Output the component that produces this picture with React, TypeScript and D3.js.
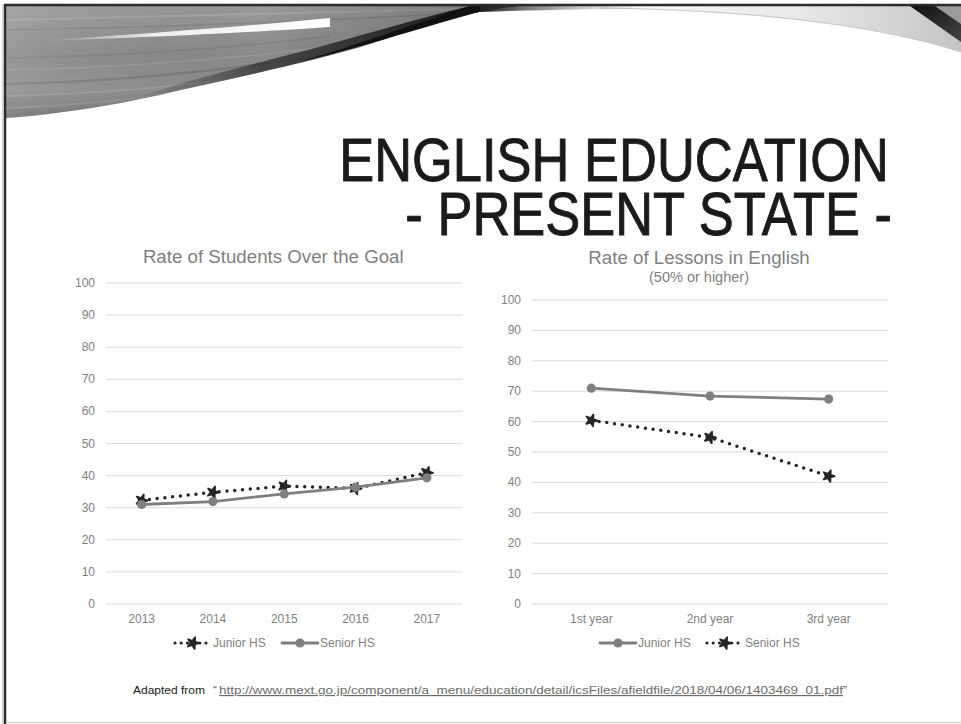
import React from "react";
import * as d3 from "d3";

const years = ["2013", "2014", "2015", "2016", "2017"];
const juniorGoal = [32.3, 34.8, 36.7, 36.0, 40.9];
const seniorGoal = [31.0, 31.9, 34.3, 36.4, 39.3];

const grades = ["1st year", "2nd year", "3rd year"];
const juniorLessons = [71.0, 68.4, 67.4];
const seniorLessons = [60.4, 54.8, 42.1];

const yTicks = [0, 10, 20, 30, 40, 50, 60, 70, 80, 90, 100];

const FONT = "'Liberation Sans', Arial, Helvetica, sans-serif";
const AXIS_COLOR = "#7f7f7f";
const GRID = "#d9d9d9";
const SOLID = "#7f7f7f";
const DOTTED = "#262626";

type Series = { name: string; values: number[]; dotted: boolean };

function Marker({ x, y, dotted }: { x: number; y: number; dotted: boolean }) {
  if (dotted) {
    const p = d3.symbol().type(d3.symbolStar).size(42)() as string;
    return (
      <path
        d={p}
        transform={`translate(${x},${y}) rotate(20)`}
        fill={DOTTED}
        stroke={DOTTED}
        strokeWidth={1.8}
        strokeLinejoin="round"
      />
    );
  }
  return <circle cx={x} cy={y} r={4.6} fill={SOLID} />;
}

function SeriesLine({ s, x, y }: { s: Series; x: (i: number) => number; y: d3.ScaleLinear<number, number> }) {
  const line = d3
    .line<number>()
    .x((_, i) => x(i))
    .y((d) => y(d));
  return (
    <g>
      <path
        d={line(s.values) as string}
        fill="none"
        stroke={s.dotted ? DOTTED : SOLID}
        strokeWidth={s.dotted ? 3.5 : 2.8}
        strokeLinecap="round"
        strokeDasharray={s.dotted ? "0 7.8" : undefined}
      />
      {s.values.map((v, i) => (
        <Marker key={i} x={x(i)} y={y(v)} dotted={s.dotted} />
      ))}
    </g>
  );
}

function Chart(props: {
  x0: number;
  x1: number;
  yTop: number;
  yBottom: number;
  categories: string[];
  series: Series[];
  title: string;
  titleY: number;
  subtitle?: string;
  legendX: number;
}) {
  const { x0, x1, yTop, yBottom, categories, series, title, titleY, subtitle, legendX } = props;
  const xb = d3.scaleBand<string>().domain(categories).range([x0, x1]);
  const xc = (i: number) => (xb(categories[i]) as number) + xb.bandwidth() / 2;
  const y = d3.scaleLinear().domain([0, 100]).range([yBottom, yTop]);
  const cx = (x0 + x1) / 2;
  const legendY = 643;
  return (
    <g fontFamily={FONT}>
      <text x={cx - 11} y={titleY} textAnchor="middle" fontSize={18.7} fill={AXIS_COLOR}>
        {title}
      </text>
      {subtitle && (
        <text x={cx - 11} y={titleY + 18} textAnchor="middle" fontSize={14.5} fill={AXIS_COLOR}>
          {subtitle}
        </text>
      )}
      {yTicks.map((t) => (
        <g key={t}>
          <line x1={x0} x2={x1} y1={y(t)} y2={y(t)} stroke={GRID} strokeWidth={1} />
          <text x={x0 - 11} y={y(t) + 4} textAnchor="end" fontSize={12} fill={AXIS_COLOR}>
            {t}
          </text>
        </g>
      ))}
      {categories.map((c, i) => (
        <text key={c} x={xc(i)} y={yBottom + 19} textAnchor="middle" fontSize={12} fill={AXIS_COLOR}>
          {c}
        </text>
      ))}
      {series.map((s) => (
        <SeriesLine key={s.name} s={s} x={xc} y={y} />
      ))}
      {series.map((s, k) => {
        const lx = legendX + k * 107;
        return (
          <g key={s.name}>
            <line
              x1={lx}
              x2={lx + 36}
              y1={legendY}
              y2={legendY}
              stroke={s.dotted ? DOTTED : SOLID}
              strokeWidth={s.dotted ? 3.2 : 2.8}
              strokeLinecap="round"
              strokeDasharray={s.dotted ? "0 6.2" : undefined}
            />
            <Marker x={lx + 18} y={legendY} dotted={s.dotted} />
            <text x={lx + 38} y={legendY + 4.3} fontSize={12} fill={AXIS_COLOR}>
              {s.name}
            </text>
          </g>
        );
      })}
    </g>
  );
}

const bandPath =
  "M 6 6 L 520 6 C 480 10, 440 20, 400 34 C 330 60, 220 80, 160 95 C 100 108, 50 115, 6 118 Z";

function Decoration() {
  const streaks = [
    { d: "M 6 20 C 150 18, 300 14, 500 8", c: "#b0b0b0", w: 2 },
    { d: "M 6 30 C 150 28, 300 22, 480 12", c: "#7a7a7a", w: 1.5 },
    { d: "M 6 58 C 120 56, 220 50, 330 36", c: "#7c7c7c", w: 2 },
    { d: "M 6 70 C 120 68, 230 60, 350 44", c: "#a3a3a3", w: 1.5 },
    { d: "M 6 84 C 100 82, 200 74, 320 56", c: "#6e6e6e", w: 2 },
    { d: "M 6 96 C 90 94, 170 88, 250 76", c: "#a8a8a8", w: 1.5 },
    { d: "M 6 108 C 70 106, 130 100, 190 90", c: "#9c9c9c", w: 2 },
  ];
  return (
    <g>
      <defs>
        <linearGradient id="bandV" x1="0" y1="0" x2="0" y2="1">
          <stop offset="0" stopColor="#9a9a9a" />
          <stop offset="0.45" stopColor="#8a8a8a" />
          <stop offset="0.75" stopColor="#909090" />
          <stop offset="1" stopColor="#707070" />
        </linearGradient>
        <linearGradient id="bandH" x1="0" y1="0" x2="1" y2="0">
          <stop offset="0" stopColor="#ffffff" stopOpacity="0.12" />
          <stop offset="0.5" stopColor="#000000" stopOpacity="0" />
          <stop offset="1" stopColor="#000000" stopOpacity="0.25" />
        </linearGradient>
        <linearGradient id="edgeDark" x1="0" y1="0" x2="1" y2="0">
          <stop offset="0" stopColor="#3a3a3a" stopOpacity="0" />
          <stop offset="0.35" stopColor="#2a2a2a" stopOpacity="0.7" />
          <stop offset="1" stopColor="#111" stopOpacity="1" />
        </linearGradient>
        <linearGradient id="streak" x1="0" y1="0" x2="1" y2="0">
          <stop offset="0" stopColor="#ffffff" stopOpacity="0" />
          <stop offset="0.4" stopColor="#ffffff" stopOpacity="0.85" />
          <stop offset="1" stopColor="#ffffff" stopOpacity="1" />
        </linearGradient>
        <linearGradient id="sheen" x1="0" y1="0" x2="1" y2="0">
          <stop offset="0" stopColor="#ffffff" />
          <stop offset="0.6" stopColor="#e8e8e8" />
          <stop offset="1" stopColor="#c4c4c4" />
        </linearGradient>
        <linearGradient id="topFade" x1="0" y1="0" x2="1" y2="0">
          <stop offset="0" stopColor="#222" stopOpacity="1" />
          <stop offset="1" stopColor="#888" stopOpacity="0" />
        </linearGradient>
        <linearGradient id="wedge" x1="0" y1="0" x2="1" y2="1">
          <stop offset="0" stopColor="#111" />
          <stop offset="1" stopColor="#444" />
        </linearGradient>
        <clipPath id="bandClip">
          <path d={bandPath} />
        </clipPath>
      </defs>
      {/* light sheen on the right */}
      <path d="M 560 6 L 961 6 L 961 52 C 880 26, 760 10, 560 8 Z" fill="url(#sheen)" />
      <path d="M 600 8 C 760 10, 880 26, 961 52" fill="none" stroke="#c9c9c9" strokeWidth={1} />
      {/* top-left band */}
      <path d={bandPath} fill="url(#bandV)" />
      <g clipPath="url(#bandClip)" opacity={0.55}>
        {streaks.map((s, i) => (
          <path key={i} d={s.d} fill="none" stroke={s.c} strokeWidth={s.w} />
        ))}
      </g>
      <path d={bandPath} fill="url(#bandH)" />
      {/* dark lower edge */}
      <path
        d="M 120 103 C 220 82, 330 58, 400 34 C 440 20, 480 10, 520 6 L 470 6 C 420 18, 360 36, 300 52 C 230 70, 180 82, 120 103 Z"
        fill="url(#edgeDark)"
      />
      {/* black streak */}
      <path d="M 300 62 C 360 44, 420 22, 470 6 L 500 6 C 440 22, 380 42, 300 62 Z" fill="#111" />
      {/* white highlight streak */}
      <path d="M 40 41 C 140 34, 240 27, 330 18 L 330 27 C 240 33, 140 38, 40 41 Z" fill="url(#streak)" />
      {/* faint thin dark line across top */}
      <path d="M 480 6 L 640 6 L 640 9 C 590 9, 540 10, 480 12 Z" fill="url(#topFade)" />
      {/* right dark wedge */}
      <path d="M 935 6 L 961 6 L 961 24 Z" fill="#9a9a9a" />
      <path d="M 910 6 L 935 6 L 961 24 L 961 42 Z" fill="url(#wedge)" />
    </g>
  );
}

export default function App() {
  const goalSeries: Series[] = [
    { name: "Junior HS", values: juniorGoal, dotted: true },
    { name: "Senior HS", values: seniorGoal, dotted: false },
  ];
  const lessonSeries: Series[] = [
    { name: "Junior HS", values: juniorLessons, dotted: false },
    { name: "Senior HS", values: seniorLessons, dotted: true },
  ];
  return (
    <svg
      width={961}
      height={724}
      style={{ position: "absolute", left: 0, top: 0, background: "#ffffff" }}
    >
      <rect x={0} y={0} width={961} height={724} fill="#ffffff" />
      <Decoration />
      {/* frame */}
      <line x1={4} x2={961} y1={5} y2={5} stroke="#2b2b2b" strokeWidth={2.5} />
      <line x1={5} x2={5} y1={4} y2={724} stroke="#2b2b2b" strokeWidth={2.5} />
      <line x1={2.5} x2={2.5} y1={4} y2={724} stroke="#cfcfcf" strokeWidth={1} />
      <line x1={6} x2={961} y1={722.5} y2={722.5} stroke="#d4d4d4" strokeWidth={1.5} />

      <g fontFamily="'Liberation Sans', Arial, sans-serif" fill="#1a1a1a" stroke="#1a1a1a" strokeWidth={0.9}>
        <text transform="translate(889,181) scale(0.86,1)" textAnchor="end" fontSize={61}>
          ENGLISH EDUCATION
        </text>
        <text transform="translate(892,235) scale(0.86,1)" textAnchor="end" fontSize={61}>
          - PRESENT STATE -
        </text>
      </g>

      <Chart
        x0={106}
        x1={462.5}
        yTop={283}
        yBottom={604}
        categories={years}
        series={goalSeries}
        title="Rate of Students Over the Goal"
        titleY={263}
        legendX={175}
      />
      <Chart
        x0={532}
        x1={888}
        yTop={300}
        yBottom={604}
        categories={grades}
        series={lessonSeries}
        title="Rate of Lessons in English"
        titleY={264}
        subtitle="(50% or higher)"
        legendX={600}
      />

      <g fontFamily={FONT} fontSize={11.5}>
        <text x={133} y={694} fill="#1a1a1a" textLength={72} lengthAdjust="spacingAndGlyphs">
          Adapted from
        </text>
        <text x={213} y={694} fill="#595959">“</text>
        <text
          x={219}
          y={694}
          fill="#6b6b6b"
          textDecoration="underline"
          textLength={624}
          lengthAdjust="spacingAndGlyphs"
        >
          http://www.mext.go.jp/component/a_menu/education/detail/icsFiles/afieldfile/2018/04/06/1403469_01.pdf
        </text>
        <text x={843} y={694} fill="#595959">”</text>
      </g>
    </svg>
  );
}
